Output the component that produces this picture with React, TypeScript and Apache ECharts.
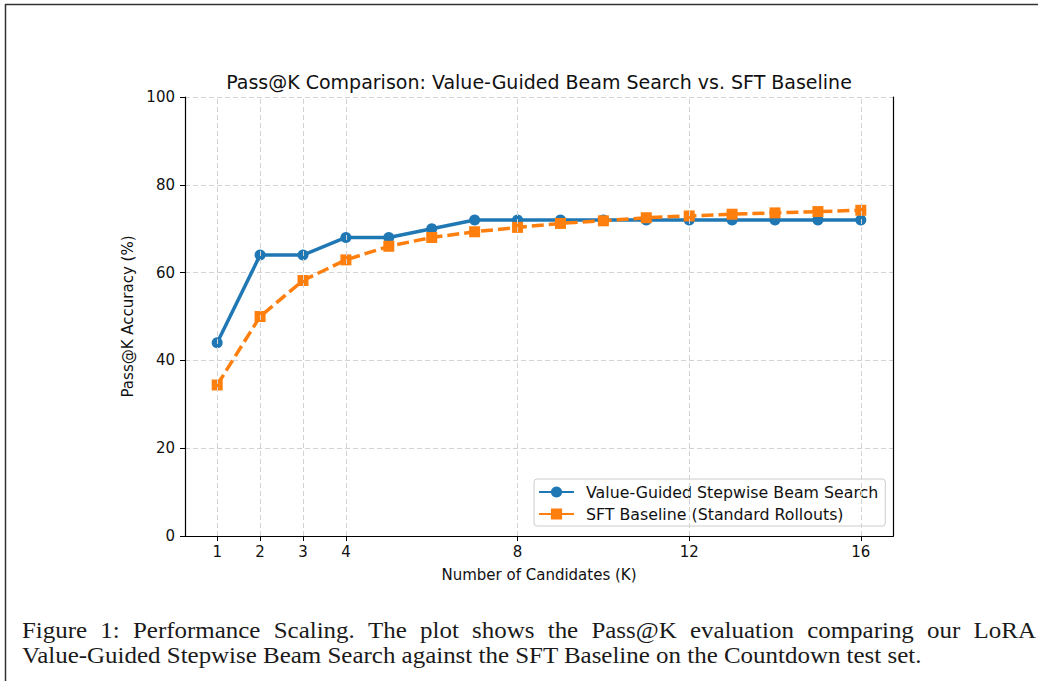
import React, { useEffect, useRef } from "react";
import * as echarts from "echarts";

const K = [1, 2, 3, 4, 5, 6, 7, 8, 9, 10, 11, 12, 13, 14, 15, 16];
const beamSearch = [44, 64, 64, 68, 68, 70, 72, 72, 72, 72, 72, 72, 72, 72, 72, 72];
const sftBaseline = [34.4, 50, 58.2, 62.9, 66, 68, 69.3, 70.3, 71.2, 71.8, 72.5, 72.9, 73.3, 73.6, 73.9, 74.2];
const xTicks = [1, 2, 3, 4, 8, 12, 16];
const seriesNames = ["Value-Guided Stepwise Beam Search", "SFT Baseline (Standard Rollouts)"];
const titleText = "Pass@K Comparison: Value-Guided Beam Search vs. SFT Baseline";
const xLabel = "Number of Candidates (K)";
const yLabel = "Pass@K Accuracy (%)";
const captionLines = [
  "Figure 1: Performance Scaling. The plot shows the Pass@K evaluation comparing our LoRA",
  "Value-Guided Stepwise Beam Search against the SFT Baseline on the Countdown test set.",
];

const FONT = "DejaVu Sans";
const BLUE = "#1f77b4";
const ORANGE = "#ff7f0e";
const GRID = "#d3d3d3";
const LBL = 15;
const CAP_FONT = "24px 'Liberation Serif'";
const CAP_SX = 1.04;
const CAP_LEFT = 22;
const CAP_RIGHT = 1036;

function justifiedLine(text: string, y: number) {
  const words = text.split(" ");
  let ctx: CanvasRenderingContext2D | null = null;
  try {
    ctx = document.createElement("canvas").getContext("2d");
  } catch (e) {
    ctx = null;
  }
  if (!ctx) {
    return [{ type: "text", x: CAP_LEFT, y, scaleX: 1.135, style: { text, font: CAP_FONT, fill: "#1a1a1a" } }];
  }
  ctx.font = CAP_FONT;
  const widths = words.map((w) => ctx!.measureText(w).width * CAP_SX);
  const total = widths.reduce((a, b) => a + b, 0);
  const gap = (CAP_RIGHT - CAP_LEFT - total) / (words.length - 1);
  let x = CAP_LEFT;
  return words.map((w, i) => {
    const el = { type: "text", x, y, scaleX: CAP_SX, style: { text: w, font: CAP_FONT, fill: "#1a1a1a" } };
    x += widths[i] + gap;
    return el;
  });
}

export default function App() {
  const ref = useRef<HTMLDivElement>(null);
  useEffect(() => {
    if (!ref.current) return;
    const chart = echarts.init(ref.current, null, { renderer: "svg" });
    const spine = { show: true, lineStyle: { color: "#000", width: 1.2 } };
    chart.setOption({
      animation: false,
      backgroundColor: "#fff",
      title: {
        text: titleText,
        left: 539,
        top: 72,
        padding: 0,
        textAlign: "center",
        textStyle: { fontFamily: FONT, fontSize: 19, fontWeight: "normal", color: "#111" },
      },
      grid: { left: 185, right: 146, top: 97, bottom: 145 },
      legend: {
        orient: "vertical",
        left: 534,
        top: 479,
        padding: [5, 7, 4, 4],
        itemWidth: 35,
        itemHeight: 14,
        itemGap: 6,
        backgroundColor: "#fff",
        borderColor: "#cccccc",
        borderWidth: 1,
        borderRadius: 3,
        textStyle: { fontFamily: FONT, fontSize: 15.8, color: "#111", padding: [0, 0, 0, 7] },
        data: seriesNames.map((n) => ({ name: n, lineStyle: { type: "solid" } })),
      },
      xAxis: [
        {
          type: "value",
          min: 0.25,
          max: 16.75,
          name: xLabel,
          nameLocation: "middle",
          nameGap: 31,
          nameTextStyle: { fontFamily: FONT, fontSize: LBL, color: "#111" },
          axisLine: spine,
          axisTick: { show: true, length: 5, lineStyle: { color: "#000", width: 1 }, customValues: xTicks },
          axisLabel: { fontFamily: FONT, fontSize: LBL, color: "#111", margin: 8, customValues: xTicks },
          splitLine: { show: false },
          z: 5,
        },
        {
          type: "value",
          position: "top",
          min: 0.25,
          max: 16.75,
          axisLine: spine,
          axisTick: { show: false },
          axisLabel: { show: false },
          splitLine: { show: false },
          z: 5,
        },
      ],
      yAxis: [
        {
          type: "value",
          min: 0,
          max: 100,
          interval: 20,
          name: yLabel,
          nameLocation: "middle",
          nameGap: 48,
          nameTextStyle: { fontFamily: FONT, fontSize: LBL, color: "#111" },
          axisLine: spine,
          axisTick: { show: true, length: 5, lineStyle: { color: "#000", width: 1 } },
          axisLabel: { fontFamily: FONT, fontSize: LBL, color: "#111", margin: 10 },
          splitLine: { show: true, lineStyle: { color: GRID, type: [5, 3], width: 1 } },
        },
        {
          type: "value",
          position: "right",
          min: 0,
          max: 100,
          interval: 20,
          axisLine: spine,
          axisTick: { show: false },
          axisLabel: { show: false },
          splitLine: { show: false },
          z: 5,
        },
      ],
      series: [
        {
          name: "grid-x",
          type: "line",
          data: [],
          silent: true,
          markLine: {
            silent: true,
            symbol: ["none", "none"],
            label: { show: false },
            lineStyle: { color: GRID, type: [5, 3], width: 1 },
            data: xTicks.map((v) => ({ xAxis: v })),
          },
        },
        {
          name: seriesNames[0],
          type: "line",
          data: K.map((k, i) => [k, beamSearch[i]]),
          symbol: "circle",
          symbolSize: 11,
          lineStyle: { color: BLUE, width: 3.5 },
          itemStyle: { color: BLUE },
        },
        {
          name: seriesNames[1],
          type: "line",
          data: K.map((k, i) => [k, sftBaseline[i]]),
          symbol: "rect",
          symbolSize: 11,
          lineStyle: { color: ORANGE, width: 3.5, type: [12, 5] },
          itemStyle: { color: ORANGE },
        },
      ],
      graphic: [
        { type: "line", shape: { x1: 5, y1: 4.5, x2: 1038, y2: 4.5 }, style: { stroke: "#333", lineWidth: 1.5 } },
        { type: "line", shape: { x1: 5.5, y1: 4, x2: 5.5, y2: 681 }, style: { stroke: "#333", lineWidth: 1.5 } },
        ...justifiedLine(captionLines[0], 618),
        {
          type: "text",
          x: CAP_LEFT,
          y: 643,
          scaleX: CAP_SX,
          style: { text: captionLines[1], font: CAP_FONT, fill: "#1a1a1a" },
        },
      ],
    });
    return () => chart.dispose();
  }, []);
  return (
    <div
      ref={ref}
      style={{ position: "fixed", left: 0, top: 0, width: 1039, height: 681, background: "#fff" }}
    />
  );
}
